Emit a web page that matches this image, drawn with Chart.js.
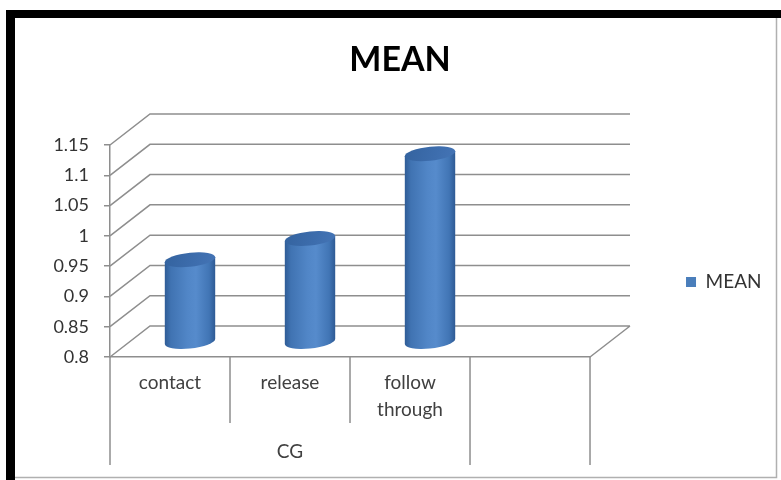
<!DOCTYPE html>
<html>
<head>
<meta charset="utf-8">
<title>MEAN</title>
<script src="https://cdn.jsdelivr.net/npm/chart.js@4.4.1/dist/chart.umd.min.js"></script>
<style>
  html, body { margin: 0; padding: 0; background: #fff; }
  canvas { display: block; }
</style>
</head>
<body>
<canvas id="chart" width="781" height="480"></canvas>
<script>
// Phases of the movement and the group they belong to
const categories = ['contact', 'release', ['follow', 'through'], ''];
const groupLabel = 'CG';
const groupSpan = 3;               // CG covers the first three phases
const meanValues = [0.935, 0.97, 1.11, null];
const yTicks = [0.8, 0.85, 0.9, 0.95, 1, 1.05, 1.1, 1.15];

// Depth of the pseudo-3D box (back wall offset from the front plane)
const DEPTH_X = 40;
const DEPTH_Y = -31;
const GRID_COLOR = '#8e8e8e';
const FONT = 'Lato';

// Card frame: heavy black top/left edge, thin grey right/bottom edge
const framePlugin = {
  id: 'frame',
  beforeDraw(chart) {
    const { ctx, width: w, height: h } = chart;
    ctx.save();
    ctx.fillStyle = '#ffffff';
    ctx.fillRect(0, 0, w, h);
    ctx.fillStyle = '#000000';
    ctx.fillRect(6, 10, w - 6, 8);
    ctx.fillRect(6, 10, 9, h - 10);
    ctx.strokeStyle = '#b0b0b0';
    ctx.lineWidth = 1.5;
    ctx.beginPath();
    ctx.moveTo(776.5, 18);
    ctx.lineTo(776.5, 477.5);
    ctx.lineTo(15, 477.5);
    ctx.stroke();
    ctx.restore();
  }
};

// Back wall, side wall and floor of the 3D box, plus the two-level category dividers
const boxPlugin = {
  id: 'box3d',
  beforeDatasetsDraw(chart) {
    const { ctx, chartArea: a, scales: { x, y } } = chart;
    ctx.save();
    ctx.strokeStyle = GRID_COLOR;
    ctx.lineWidth = 1.5;
    ctx.beginPath();
    yTicks.forEach(v => {
      const py = y.getPixelForValue(v);
      ctx.moveTo(a.left, py);
      ctx.lineTo(a.left + DEPTH_X, py + DEPTH_Y);
      ctx.lineTo(a.right + DEPTH_X, py + DEPTH_Y);
    });
    // right edge of the floor
    ctx.moveTo(a.right, a.bottom);
    ctx.lineTo(a.right + DEPTH_X, a.bottom + DEPTH_Y);

    // dividers between phases (short) and around the group (long)
    const n = categories.length;
    for (let i = 0; i <= n; i++) {
      const bx = x.getPixelForValue(i - 0.5);
      const groupEdge = i === 0 || i === groupSpan || i === n;
      ctx.moveTo(bx, a.bottom);
      ctx.lineTo(bx, a.bottom + (groupEdge ? 108 : 66));
    }
    ctx.stroke();

    // group label under the phases
    const gx = (x.getPixelForValue(-0.5) + x.getPixelForValue(groupSpan - 0.5)) / 2;
    ctx.fillStyle = '#404040';
    ctx.font = `19px ${FONT}`;
    ctx.textAlign = 'center';
    ctx.textBaseline = 'middle';
    ctx.fillText(groupLabel, gx, a.bottom + 95);
    ctx.restore();
  },
  // bars are rendered as shaded cylinders standing mid-depth on the floor
  beforeDatasetDraw(chart, args) {
    const ctx = chart.ctx;
    const y = chart.scales.y;
    const floor = y.getPixelForValue(y.min);
    args.meta.data.forEach((bar, i) => {
      if (meanValues[i] == null) return;
      const { x, width } = bar.getProps(['x', 'width'], true);
      const top = y.getPixelForValue(meanValues[i]);
      drawCylinder(ctx, x + DEPTH_X / 2, top + DEPTH_Y / 2, floor + DEPTH_Y / 2, width / 2);
    });
    return false;
  }
};

function drawCylinder(ctx, cx, topY, botY, rx) {
  const ry = rx * 0.28;
  ctx.save();
  ctx.translate(cx, 0);
  ctx.transform(1, -0.1, 0, 1, 0, 0); // slight tilt of the end caps

  const body = ctx.createLinearGradient(-rx, 0, rx, 0);
  body.addColorStop(0.00, '#2f5c96');
  body.addColorStop(0.12, '#4073b2');
  body.addColorStop(0.45, '#5186c7');
  body.addColorStop(0.62, '#568bcc');
  body.addColorStop(0.88, '#4175b5');
  body.addColorStop(1.00, '#2e5a94');
  ctx.beginPath();
  ctx.moveTo(-rx, topY);
  ctx.lineTo(-rx, botY);
  ctx.ellipse(0, botY, rx, ry, 0, Math.PI, 0, true);
  ctx.lineTo(rx, topY);
  ctx.closePath();
  ctx.fillStyle = body;
  ctx.fill();

  const cap = ctx.createLinearGradient(-rx, topY - ry, rx, topY + ry);
  cap.addColorStop(0, '#34639f');
  cap.addColorStop(0.6, '#3d6dad');
  cap.addColorStop(1, '#4474b5');
  ctx.beginPath();
  ctx.ellipse(0, topY, rx, ry, 0, 0, Math.PI * 2);
  ctx.fillStyle = cap;
  ctx.fill();
  ctx.restore();
}

new Chart(document.getElementById('chart'), {
  type: 'bar',
  data: {
    labels: categories,
    datasets: [{
      label: 'MEAN',
      data: meanValues,
      backgroundColor: '#4A7EBB',
      borderWidth: 0,
      barPercentage: 0.42,
      categoryPercentage: 1
    }]
  },
  options: {
    responsive: false,
    devicePixelRatio: 1,
    animation: false,
    events: [],
    layout: { padding: { left: 28.5, right: 9.5, top: 0, bottom: 0 } },
    plugins: {
      title: {
        display: true,
        text: 'MEAN',
        color: '#000000',
        font: { family: FONT, size: 34, weight: 'bold', lineHeight: 1.2 },
        padding: { top: 40, bottom: 64.2 }
      },
      legend: {
        display: true,
        position: 'right',
        // empty legend title only pushes the entry a little below centre
        title: { display: true, text: '', padding: { top: 72, bottom: 0 }, font: { size: 12, lineHeight: 1 } },
        labels: {
          boxWidth: 10,
          boxHeight: 10,
          padding: 10,
          color: '#333333',
          font: { family: FONT, size: 19 }
        }
      },
      tooltip: { enabled: false }
    },
    scales: {
      x: {
        type: 'category',
        position: 'bottom',
        grid: { display: false, drawTicks: false },
        border: { display: true, color: GRID_COLOR, width: 1.5 },
        ticks: {
          color: '#404040',
          font: { family: FONT, size: 19, lineHeight: '27px' },
          padding: 12.5,
          maxRotation: 0,
          autoSkip: false
        },
        afterFit(s) { s.height = 123; }
      },
      y: {
        type: 'linear',
        position: 'left',
        min: 0.8,
        max: 1.15,
        afterBuildTicks(s) { s.ticks = yTicks.map(v => ({ value: v })); },
        grid: { display: true, drawOnChartArea: false, drawTicks: true, tickLength: 6, color: GRID_COLOR, lineWidth: 1.5 },
        border: { display: true, color: GRID_COLOR, width: 1.5 },
        ticks: {
          color: '#333333',
          font: { family: FONT, size: 18 },
          padding: 15,
          callback: v => String(v)
        },
        afterFit(s) { s.width = 81.5; }
      },
      // reserves room for the depth of the box between plot and legend
      depth: {
        type: 'linear',
        position: 'right',
        display: true,
        grid: { display: false },
        border: { display: false },
        ticks: { display: false },
        afterFit(s) { s.width = 86; }
      }
    }
  },
  plugins: [framePlugin, boxPlugin]
});
</script>
</body>
</html>
